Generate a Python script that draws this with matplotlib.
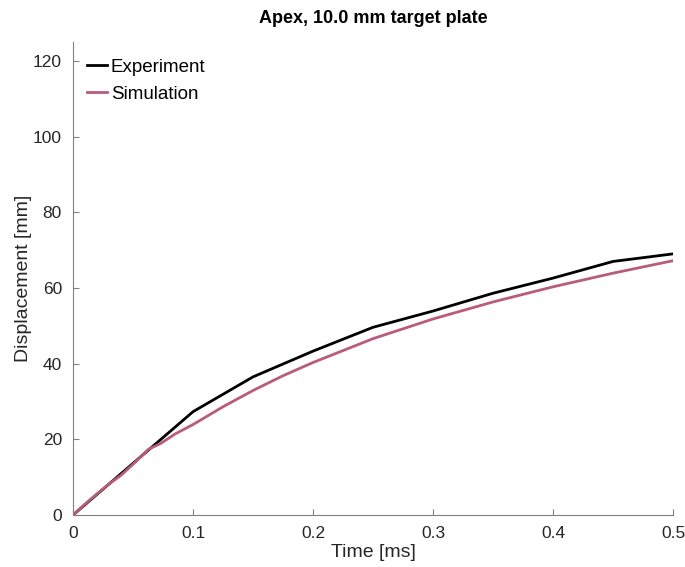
import matplotlib
matplotlib.use('Agg')
import matplotlib.pyplot as plt

# Experiment (piecewise linear, 0.05 ms steps)
exp_t = [0.0, 0.1, 0.15, 0.2, 0.25, 0.3, 0.35, 0.4, 0.45, 0.5]
exp_d = [0.0, 27.3, 36.5, 43.3, 49.6, 53.9, 58.6, 62.6, 67.0, 69.0]

# Simulation
sim_t = [0.0, 0.01, 0.02, 0.03, 0.04, 0.05, 0.063, 0.073, 0.085, 0.1,
         0.125, 0.15, 0.175, 0.2, 0.25, 0.3, 0.35, 0.4, 0.45, 0.5]
sim_d = [0.0, 2.9, 5.6, 8.2, 10.5, 13.4, 17.4, 18.9, 21.4, 23.9,
         28.6, 32.9, 36.8, 40.3, 46.6, 51.8, 56.3, 60.3, 63.9, 67.2]

plt.rcParams['font.family'] = ['Liberation Sans', 'DejaVu Sans']

fig = plt.figure(figsize=(6.85, 5.67), dpi=100)
ax = fig.add_axes([0.1066, 0.0917, 0.8759, 0.8343])

ax.plot(exp_t, exp_d, color='black', linewidth=2, label='Experiment')
ax.plot(sim_t, sim_d, color='#b85c78', linewidth=2, label='Simulation')

ax.set_xlim(0, 0.5)
ax.set_ylim(0, 125)
ax.set_xticks([0, 0.1, 0.2, 0.3, 0.4, 0.5])
ax.set_xticklabels(['0', '0.1', '0.2', '0.3', '0.4', '0.5'])
ax.set_yticks([0, 20, 40, 60, 80, 100, 120])

for side in ['top', 'right']:
    ax.spines[side].set_visible(False)
for side in ['left', 'bottom']:
    ax.spines[side].set_color('#808080')
ax.tick_params(direction='in', length=4, colors='#808080', labelcolor='#262626',
               labelsize=12.5, pad=8)

ax.set_xlabel('Time [ms]', fontsize=14, color='#262626', labelpad=2)
ax.set_ylabel('Displacement [mm]', fontsize=14, color='#262626', labelpad=1)
ax.set_title('Apex, 10.0 mm target plate', fontsize=13, fontweight='bold', pad=14)

ax.legend(loc='upper left', frameon=False, fontsize=13.5, handlelength=1.1,
          handletextpad=0.2, borderaxespad=0.0, labelspacing=0.5,
          bbox_to_anchor=(0.01, 0.98))

fig.savefig('out.png', dpi=100)
